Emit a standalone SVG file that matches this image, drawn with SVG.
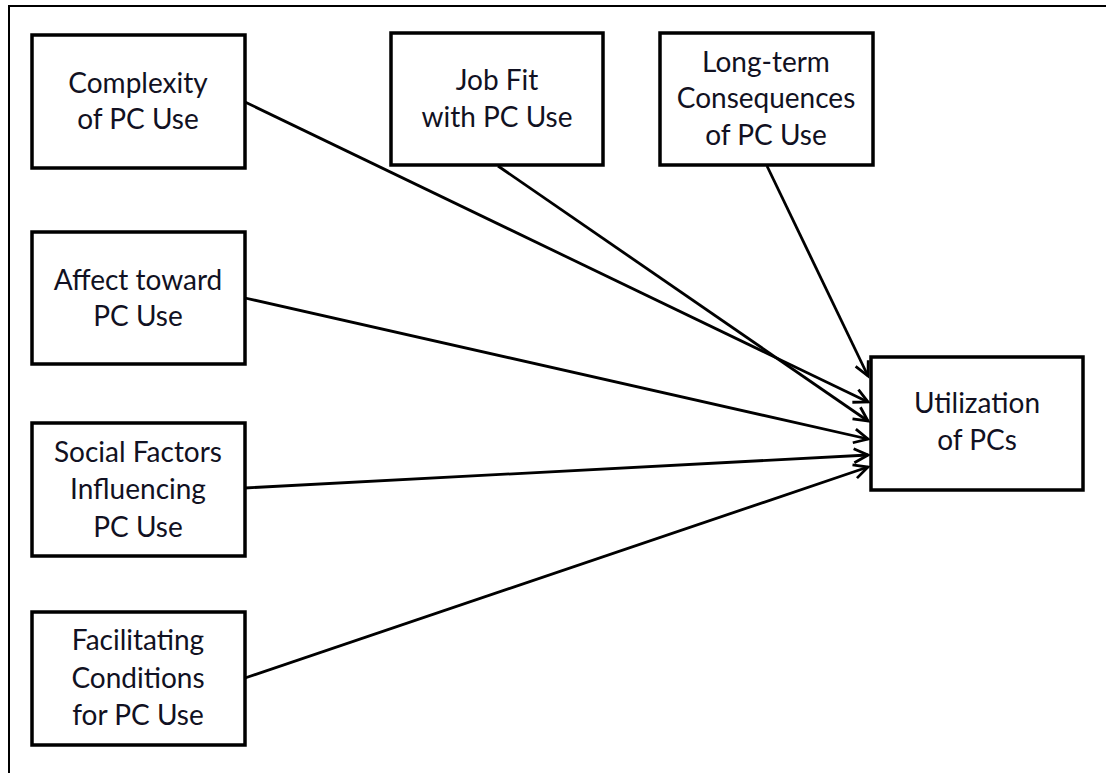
<svg xmlns="http://www.w3.org/2000/svg" width="1106" height="773" viewBox="0 0 1106 773">
  <style>
    .box { fill: #ffffff; stroke: #000000; stroke-width: 3.5; }
    .lbl { font-family: Lato, "Noto Sans", sans-serif; font-size: 28px; fill: #111122; text-anchor: middle; }
    .edge { fill: none; stroke: #000000; stroke-width: 2.8; marker-end: url(#arrow); }
  </style>
  <defs>
    <marker id="arrow" markerUnits="userSpaceOnUse" markerWidth="20" markerHeight="20" viewBox="0 0 20 20" refX="17" refY="10" orient="auto">
      <path d="M3,3 L17,10 L3,17" fill="none" stroke="#000000" stroke-width="2.8"/>
    </marker>
  </defs>
  <rect width="1106" height="773" fill="#ffffff"/>
  <!-- frame (open at right and bottom) -->
  <path d="M9,773 V6 H1106" fill="none" stroke="#000000" stroke-width="2"/>

  <g id="connectors">
    <line class="edge" x1="767" y1="166" x2="868" y2="376"/>
    <line class="edge" x1="245" y1="102" x2="868" y2="402"/>
    <line class="edge" x1="498" y1="166" x2="868" y2="421"/>
    <line class="edge" x1="245" y1="298" x2="868" y2="439"/>
    <line class="edge" x1="245" y1="488" x2="868" y2="455"/>
    <line class="edge" x1="245" y1="678" x2="868" y2="467"/>
  </g>

  <g id="complexity">
    <rect class="box" x="32" y="35" width="213" height="133"/>
    <text class="lbl" x="138" y="93">Complexity</text>
    <text class="lbl" x="138" y="129">of PC Use</text>
  </g>
  <g id="jobfit">
    <rect class="box" x="391" y="33" width="212" height="132"/>
    <text class="lbl" x="497" y="90">Job Fit</text>
    <text class="lbl" x="497" y="127">with PC Use</text>
  </g>
  <g id="longterm">
    <rect class="box" x="660" y="33" width="213" height="132"/>
    <text class="lbl" x="766" y="72">Long-term</text>
    <text class="lbl" x="766" y="108">Consequences</text>
    <text class="lbl" x="766" y="145">of PC Use</text>
  </g>
  <g id="affect">
    <rect class="box" x="32" y="232" width="213" height="132"/>
    <text class="lbl" x="138" y="290">Affect toward</text>
    <text class="lbl" x="138" y="326">PC Use</text>
  </g>
  <g id="social">
    <rect class="box" x="32" y="423" width="213" height="133"/>
    <text class="lbl" x="138" y="462">Social Factors</text>
    <text class="lbl" x="138" y="499">Influencing</text>
    <text class="lbl" x="138" y="537">PC Use</text>
  </g>
  <g id="facilitating">
    <rect class="box" x="32" y="612" width="213" height="133"/>
    <text class="lbl" x="138" y="650">Facilitating</text>
    <text class="lbl" x="138" y="688">Conditions</text>
    <text class="lbl" x="138" y="725">for PC Use</text>
  </g>
  <g id="utilization">
    <rect class="box" x="871" y="357" width="212" height="133"/>
    <text class="lbl" x="977" y="413">Utilization</text>
    <text class="lbl" x="977" y="450">of PCs</text>
  </g>
</svg>
